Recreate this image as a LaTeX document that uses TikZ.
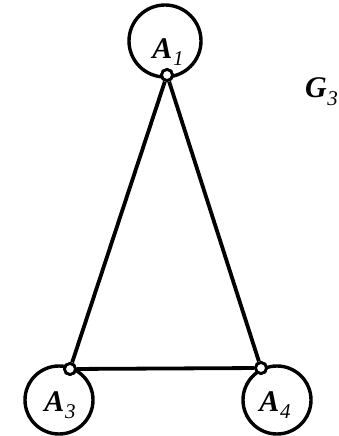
\documentclass[tikz,border=0pt]{standalone}
\usepackage{fontspec}
\setmainfont{Liberation Serif}
\newcommand{\lbl}[2]{{\bfseries\itshape #1}\kern0.5pt\raisebox{-0.25em}{\fontsize{21pt}{21pt}\selectfont\itshape #2}}
\begin{document}
\begin{tikzpicture}[x=1pt,y=1pt,
  edge/.style={line width=3.8pt},
  loopc/.style={circle,draw,line width=3.4pt,minimum size=72pt,inner sep=0pt},
  vtx/.style={circle,draw,fill=white,line width=2.8pt,minimum size=11pt,inner sep=0pt},
  lab/.style={font=\fontsize{30pt}{30pt}\selectfont,inner sep=0pt}]
\useasboundingbox (0,0) rectangle (339,436);
\node[loopc] (c1) at (165,395) {};
\node[loopc,minimum size=68pt] (c3) at (59,36) {};
\node[loopc,minimum size=68pt] (c4) at (277,36) {};
\node[vtx] (a1) at (167,361) {};
\node[vtx] (a3) at (70,67) {};
\node[vtx] (a4) at (261,68) {};
\draw[edge] (a1) -- (a3);
\draw[edge] (a1) -- (a4);
\draw[edge] (a3) -- (a4);
\node[vtx] at (a1) {};
\node[vtx] at (a3) {};
\node[vtx] at (a4) {};
\node[lab] (l1) at (168,384) {\lbl{A}{1}};
\node[lab] (l3) at (60,31) {\lbl{A}{3}};
\node[lab] (l4) at (275,31) {\lbl{A}{4}};
\node[lab,anchor=base west] (g) at (305,338) {\lbl{G}{3}};
\end{tikzpicture}
\end{document}
